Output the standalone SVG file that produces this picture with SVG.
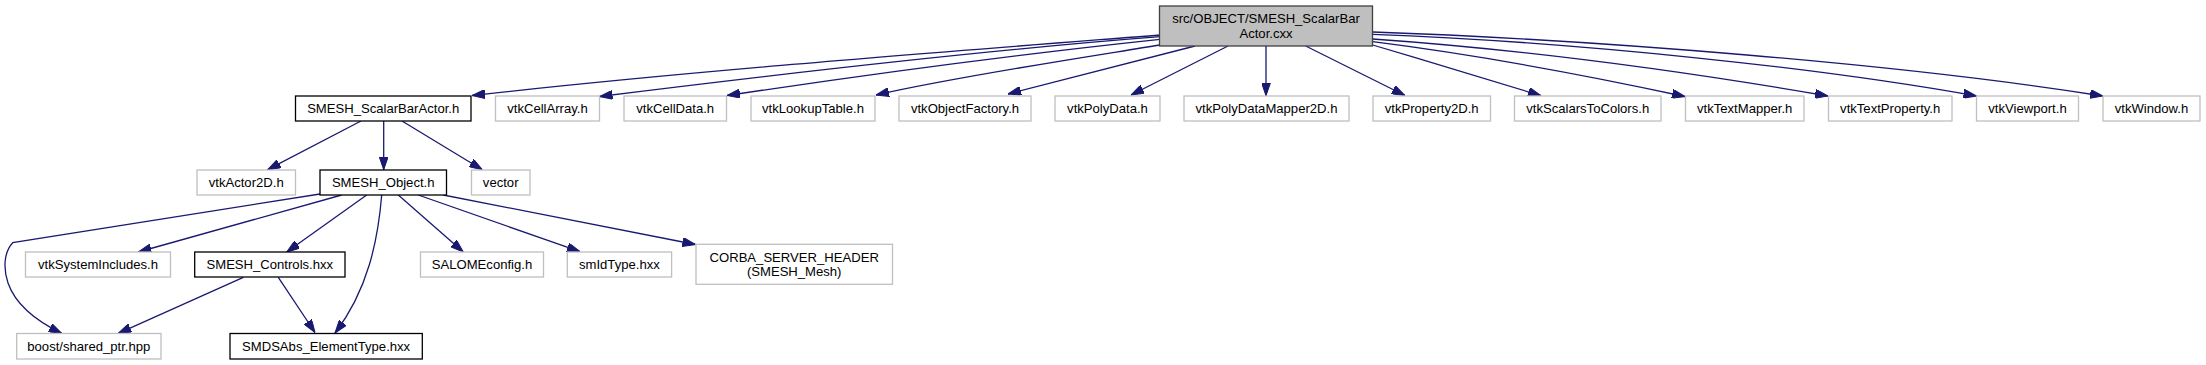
<svg xmlns="http://www.w3.org/2000/svg" width="2206" height="365" viewBox="0 0 2206 365">
<style>
.n rect{fill:#ffffff;stroke:#bfbfbf;stroke-width:1.3}
.n.b rect{stroke:#000000}
.n.r rect{fill:#bfbfbf;stroke:#404040}
text{font-family:"Liberation Sans",Arial,Helvetica,sans-serif;font-size:13.1px;text-anchor:middle;fill:#000000}
#edges path{fill:none;stroke:#191970;stroke-width:1.3;marker-end:url(#ah)}
</style>
<defs>
<marker id="ah" viewBox="0 0 13 9" refX="13" refY="4.5" markerWidth="13" markerHeight="9" markerUnits="userSpaceOnUse" orient="auto">
<path d="M0,0 L13,4.5 L0,9 Z" fill="#191970" stroke="#191970" stroke-width="1"/>
</marker>
</defs>
<rect x="0" y="0" width="2206" height="365" fill="#ffffff"/>
<g id="edges">
<path d="M1160,35 C930,53 690,71 472,95.5"/>
<path d="M1160,36.7 C1000,49 780,74 599.5,96.5"/>
<path d="M1160,39.3 C1040,52 870,74 727,95.5"/>
<path d="M1160,45 C1080,58 960,76 876,95"/>
<path d="M1195,46 L1008,94"/>
<path d="M1228,46 L1131,95"/>
<path d="M1266,46 L1266,95.7"/>
<path d="M1305.7,46 L1405,95.5"/>
<path d="M1372.7,45 C1430,62 1490,80 1541,95.7"/>
<path d="M1372.7,41.7 C1470,54 1590,76 1685,96.5"/>
<path d="M1372.7,39 C1530,50 1700,74 1828,96"/>
<path d="M1372.7,34.3 C1580,42 1820,68 1976.5,96"/>
<path d="M1372.7,32 C1600,40 1900,64 2103,96"/>
<path d="M361,121 L267.6,169.7"/>
<path d="M383.7,121 L383.7,169.7"/>
<path d="M402,121 L482.3,169.7"/>
<path d="M320,194 L12.7,242.7 C4,252 3,268 8,283 C14,300 30,318 61.7,333.3"/>
<path d="M341.7,195 L138.3,252"/>
<path d="M366.7,195 L286.7,252"/>
<path d="M381.7,195 C378,240 368,290 335,333"/>
<path d="M398.3,195 L463.3,252"/>
<path d="M418.3,195 L580,251.7"/>
<path d="M443.3,195 L695.5,244.5"/>
<path d="M243.3,277.3 L118.3,333.3"/>
<path d="M278.3,277.3 L315,332.5"/>
</g>
<g id="root" class="n r"><rect x="1159.5" y="6" width="213" height="40"/><text x="1266" y="22.7">src/OBJECT/SMESH_ScalarBar</text><text x="1266" y="37.7">Actor.cxx</text></g>
<g id="SMESH_ScalarBarActor_h" class="n b"><rect x="295.5" y="96" width="175.5" height="25"/><text x="383.2" y="113">SMESH_ScalarBarActor.h</text></g>
<g id="vtkCellArray_h" class="n"><rect x="495.5" y="96" width="104" height="25"/><text x="547.5" y="113">vtkCellArray.h</text></g>
<g id="vtkCellData_h" class="n"><rect x="624" y="96" width="102.5" height="25"/><text x="675.2" y="113">vtkCellData.h</text></g>
<g id="vtkLookupTable_h" class="n"><rect x="751" y="96" width="124" height="25"/><text x="813" y="113">vtkLookupTable.h</text></g>
<g id="vtkObjectFactory_h" class="n"><rect x="899" y="96" width="132" height="25"/><text x="965" y="113">vtkObjectFactory.h</text></g>
<g id="vtkPolyData_h" class="n"><rect x="1055" y="96" width="105" height="25"/><text x="1107.5" y="113">vtkPolyData.h</text></g>
<g id="vtkPolyDataMapper2D_h" class="n"><rect x="1184" y="96" width="165" height="25"/><text x="1266.5" y="113">vtkPolyDataMapper2D.h</text></g>
<g id="vtkProperty2D_h" class="n"><rect x="1373" y="96" width="117.5" height="25"/><text x="1431.7" y="113">vtkProperty2D.h</text></g>
<g id="vtkScalarsToColors_h" class="n"><rect x="1514.5" y="96" width="146.5" height="25"/><text x="1587.7" y="113">vtkScalarsToColors.h</text></g>
<g id="vtkTextMapper_h" class="n"><rect x="1685.5" y="96" width="118.5" height="25"/><text x="1744.7" y="113">vtkTextMapper.h</text></g>
<g id="vtkTextProperty_h" class="n"><rect x="1828.5" y="96" width="123.5" height="25"/><text x="1890.2" y="113">vtkTextProperty.h</text></g>
<g id="vtkViewport_h" class="n"><rect x="1976.5" y="96" width="102" height="25"/><text x="2027.5" y="113">vtkViewport.h</text></g>
<g id="vtkWindow_h" class="n"><rect x="2103" y="96" width="97" height="25"/><text x="2151.5" y="113">vtkWindow.h</text></g>
<g id="vtkActor2D_h" class="n"><rect x="197" y="170" width="98.5" height="25"/><text x="246.2" y="187">vtkActor2D.h</text></g>
<g id="SMESH_Object_h" class="n b"><rect x="320" y="170" width="126.5" height="25"/><text x="383.2" y="187">SMESH_Object.h</text></g>
<g id="vector" class="n"><rect x="471.5" y="170" width="58.5" height="25"/><text x="500.7" y="187">vector</text></g>
<g id="vtkSystemIncludes_h" class="n"><rect x="25.5" y="252" width="145" height="25"/><text x="98" y="269">vtkSystemIncludes.h</text></g>
<g id="SMESH_Controls_hxx" class="n b"><rect x="194.7" y="252" width="150.3" height="25"/><text x="269.8" y="269">SMESH_Controls.hxx</text></g>
<g id="SALOMEconfig_h" class="n"><rect x="420.5" y="252" width="123" height="25"/><text x="482" y="269">SALOMEconfig.h</text></g>
<g id="smIdType_hxx" class="n"><rect x="567.3" y="252" width="104.3" height="25"/><text x="619.4" y="269">smIdType.hxx</text></g>
<g id="CORBA_SERVER_HEADER" class="n"><rect x="696" y="244.3" width="196.5" height="40"/><text x="794.2" y="261.5">CORBA_SERVER_HEADER</text><text x="794.2" y="275.5">(SMESH_Mesh)</text></g>
<g id="boost_shared_ptr_hpp" class="n"><rect x="16.7" y="333.5" width="144.3" height="25.5"/><text x="88.8" y="350.7">boost/shared_ptr.hpp</text></g>
<g id="SMDSAbs_ElementType_hxx" class="n b"><rect x="230" y="333.5" width="192.3" height="25.5"/><text x="326.1" y="350.7">SMDSAbs_ElementType.hxx</text></g>
</svg>
